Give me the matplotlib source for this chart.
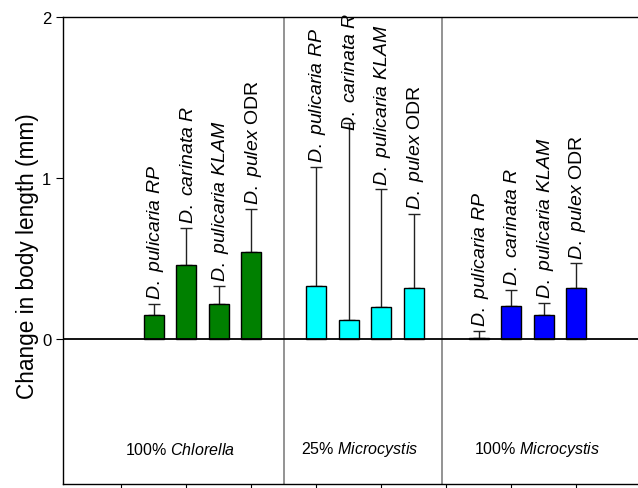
import matplotlib
matplotlib.use("Agg")
import matplotlib.pyplot as plt
import numpy as np

plt.rcParams['font.family'] = ['Liberation Sans', 'DejaVu Sans']
plt.rcParams['mathtext.fontset'] = 'custom'
plt.rcParams['mathtext.rm'] = 'Liberation Sans'
plt.rcParams['mathtext.it'] = 'Liberation Sans:italic'

# ---- data ----
groups = ["100% $\\mathit{Chlorella}$", "25% $\\mathit{Microcystis}$", "100% $\\mathit{Microcystis}$"]
clones = ["$\\mathit{D.\\ pulicaria\\ RP}$", "$\\mathit{D.\\ carinata\\ R}$",
          "$\\mathit{D.\\ pulicaria\\ KLAM}$", "$\\mathit{D.\\ pulex}$ ODR"]
chlorella_vals = [0.15, 0.46, 0.22, 0.54]
chlorella_err = [0.07, 0.23, 0.11, 0.27]
micro25_vals = [0.33, 0.12, 0.20, 0.32]
micro25_err = [0.74, 1.22, 0.73, 0.46]
micro100_vals = [0.01, 0.205, 0.15, 0.32]
micro100_err = [0.04, 0.10, 0.075, 0.15]
colors = ["#008000", "#00ffff", "#0000ff"]

values = [chlorella_vals, micro25_vals, micro100_vals]
errors = [chlorella_err, micro25_err, micro100_err]

# layout constants
group_label_x = [1.8, 7.34, 12.8]
dividers = [5, 9.86]

fig = plt.figure(figsize=(6.38, 4.89), dpi=100)
ax = fig.add_axes([0.0987, 0.008, 0.9013, 0.955])

bar_w = 0.62
for g in range(3):
    xs = np.arange(4) + 1 + 5 * g
    v = np.array(values[g])
    e = np.array(errors[g])
    ax.bar(xs, v, width=bar_w, color=colors[g], edgecolor='black', linewidth=1.0, zorder=3)
    ax.errorbar(xs, v, yerr=[np.zeros_like(e), e], fmt='none', ecolor='#222222',
                elinewidth=1.0, capsize=4.3, capthick=1.0, zorder=2)
    for x, top, lab in zip(xs, v + e, clones):
        ax.text(x + 0.05, min(top + 0.03, 1.30), lab, rotation=90, ha='center', va='bottom',
                fontsize=14)
    ax.text(group_label_x[g], -0.68, groups[g], ha='center', va='center', fontsize=11.5)

for xd in dividers:
    ax.axvline(xd, color='#808080', linewidth=1.2, zorder=1)
ax.axhline(0, color='black', linewidth=1.3, zorder=4)

ax.set_xlim(-1.8, 15.9)
ax.set_ylim(-0.9, 2.0)
ax.set_yticks([0, 1, 2])
ax.set_yticklabels(['0', '1', '2'], fontsize=12)
ax.set_xticks(np.arange(0, 16, 2))
ax.set_xticklabels([])
ax.tick_params(axis='both', direction='out', length=5, width=0.8, colors='black')
ax.tick_params(axis='x', length=4)
ax.spines['right'].set_visible(False)
for s in ['left', 'top', 'bottom']:
    ax.spines[s].set_linewidth(1.0)
ax.set_ylabel("Change in body length (mm)", fontsize=16.3)
ax.yaxis.set_label_coords(-0.042, 0.49)

fig.savefig("out.png", dpi=100)
